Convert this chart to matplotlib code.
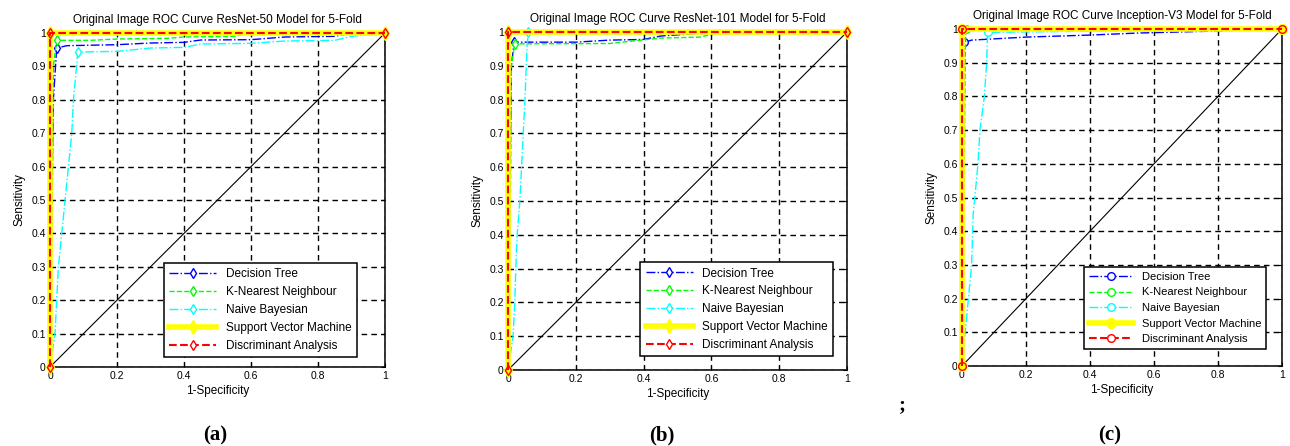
import matplotlib
matplotlib.use('Agg')
import matplotlib.pyplot as plt
from matplotlib.lines import Line2D

plt.rcParams['font.family'] = ['Liberation Sans', 'DejaVu Sans']

titles = ['Original Image ROC Curve ResNet-50 Model for 5-Fold',
          'Original Image ROC Curve ResNet-101 Model for 5-Fold',
          'Original Image ROC Curve Inception-V3 Model for 5-Fold']
panel_tags = ['(a)', '(b)', '(c)']
labels = ['Decision Tree', 'K-Nearest Neighbour', 'Naive Bayesian',
          'Support Vector Machine', 'Discriminant Analysis']
x_ticks = [0, 0.2, 0.4, 0.6, 0.8, 1]
x_tick_labels = ['0', '0.2', '0.4', '0.6', '0.8', '1']
y_ticks = [0, 0.1, 0.2, 0.3, 0.4, 0.5, 0.6, 0.7, 0.8, 0.9, 1]
y_tick_labels = ['0', '0.1', '0.2', '0.3', '0.4', '0.5', '0.6', '0.7', '0.8', '0.9', '1']

# ---- panel (a): ResNet-50 ----
a_dt_fpr = [0, 0.005, 0.01, 0.02, 0.05, 0.2, 0.3, 0.4, 0.45, 0.6, 0.7, 0.85, 0.9, 1.0]
a_dt_tpr = [0, 0.5, 0.8, 0.955, 0.962, 0.965, 0.97, 0.972, 0.979, 0.98, 0.988, 0.99, 1.0, 1.0]
a_knn_fpr = [0, 0.008, 0.01, 0.02, 0.12, 0.2, 0.35, 0.4, 0.55, 0.6, 1.0]
a_knn_tpr = [0, 0.6, 0.9, 0.978, 0.978, 0.982, 0.984, 0.988, 0.99, 1.0, 1.0]
a_nb_fpr = [0, 0.015, 0.02, 0.025, 0.035, 0.045, 0.055, 0.065, 0.07, 0.083, 0.2, 0.3, 0.4, 0.45, 0.6, 0.7, 0.85, 0.9, 1.0]
a_nb_tpr = [0, 0.1, 0.2, 0.3, 0.4, 0.5, 0.6, 0.7, 0.8, 0.943, 0.945, 0.955, 0.957, 0.967, 0.969, 0.976, 0.978, 0.99, 1.0]
a_svm_fpr = [0, 0, 1]
a_svm_tpr = [0, 1, 1]
a_da_fpr = [0, 0, 1]
a_da_tpr = [0, 1, 1]
a_marker_idx = [3, 3, 9]

# ---- panel (b): ResNet-101 ----
b_dt_fpr = [0, 0.005, 0.01, 0.018, 0.2, 0.3, 0.4, 0.45, 0.55, 0.75, 1.0]
b_dt_tpr = [0, 0.5, 0.9, 0.97, 0.97, 0.976, 0.978, 0.988, 0.995, 1.0, 1.0]
b_knn_fpr = [0, 0.008, 0.01, 0.02, 0.3, 0.45, 0.57, 0.6, 0.72, 1.0]
b_knn_tpr = [0, 0.6, 0.9, 0.965, 0.966, 0.982, 0.985, 0.994, 1.0, 1.0]
b_nb_fpr = [0, 0.015, 0.02, 0.023, 0.027, 0.035, 0.04, 0.045, 0.05, 0.056, 0.06, 1.0]
b_nb_tpr = [0, 0.1, 0.2, 0.3, 0.4, 0.5, 0.6, 0.7, 0.8, 0.955, 1.0, 1.0]
b_svm_fpr = [0, 0, 1]
b_svm_tpr = [0, 1, 1]
b_da_fpr = [0, 0, 1]
b_da_tpr = [0, 1, 1]
b_marker_idx = [3, 3, 10]

# ---- panel (c): Inception-V3 ----
c_dt_fpr = [0, 0.004, 0.006, 0.03, 0.2, 0.4, 0.55, 0.8, 0.95, 1.0]
c_dt_tpr = [0, 0.6, 0.96, 0.967, 0.976, 0.982, 0.988, 0.994, 1.0, 1.0]
c_knn_fpr = [0, 0.006, 0.01, 0.012, 1.0]
c_knn_tpr = [0, 0.5, 0.9, 1.0, 1.0]
c_nb_fpr = [0, 0.01, 0.02, 0.03, 0.035, 0.04, 0.05, 0.056, 0.07, 0.077, 0.08, 1.0]
c_nb_tpr = [0, 0.1, 0.2, 0.3, 0.45, 0.5, 0.6, 0.7, 0.8, 0.9, 0.99, 1.0]
c_svm_fpr = [0, 0, 1]
c_svm_tpr = [0, 1, 1]
c_da_fpr = [0, 0, 1]
c_da_tpr = [0, 1, 1]
c_marker_idx = [2, 3, 10]

panels = [
    [(a_dt_fpr, a_dt_tpr), (a_knn_fpr, a_knn_tpr), (a_nb_fpr, a_nb_tpr),
     (a_svm_fpr, a_svm_tpr), (a_da_fpr, a_da_tpr)],
    [(b_dt_fpr, b_dt_tpr), (b_knn_fpr, b_knn_tpr), (b_nb_fpr, b_nb_tpr),
     (b_svm_fpr, b_svm_tpr), (b_da_fpr, b_da_tpr)],
    [(c_dt_fpr, c_dt_tpr), (c_knn_fpr, c_knn_tpr), (c_nb_fpr, c_nb_tpr),
     (c_svm_fpr, c_svm_tpr), (c_da_fpr, c_da_tpr)],
]
marker_idx = [a_marker_idx, b_marker_idx, c_marker_idx]
panel_markers = ['d', 'd', 'o']

colors = ['#0000ff', '#00ff00', '#00ffff', '#ffff00', '#ff0000']
styles = ['-.', '--', '-.', '-', '--']
widths = [1.0, 1.0, 1.0, 4.0, 1.5]

# layout in pixels (left, top, right, bottom)
ax_px = [(50, 33, 385, 367), (508, 32, 847, 370), (962, 29, 1282, 366)]
legend_anchor = [(0.34, 0.03), (0.39, 0.04), (0.38, 0.05)]
legend_fs = [8.5, 8.5, 8.0]
tag_px = [(215, 435), (662, 435), (1110, 435)]

W, H = 1290, 446
fig = plt.figure(figsize=(W / 100, H / 100), dpi=100)
fs = 8.5
tfs = 7.5

for p in range(3):
    l, t, r, b = ax_px[p]
    ax = fig.add_axes([l / W, 1 - b / H, (r - l) / W, (b - t) / H])
    ax.plot([0, 1], [0, 1], color='black', lw=0.8, zorder=3)
    mk = panel_markers[p]
    handles = []
    for k in range(5):
        fpr, tpr = panels[p][k]
        ax.plot(fpr, tpr, color=colors[k], ls=styles[k], lw=widths[k],
                zorder=4 + k, clip_on=False)
        if k < 3:
            i = marker_idx[p][k]
            ax.plot([fpr[i]], [tpr[i]], ls='none', marker=mk, ms=5.5,
                    mfc='white', mec=colors[k], mew=1.0, zorder=4 + k, clip_on=False)
        elif k == 3:
            ax.plot(fpr, tpr, ls='none', marker=mk, ms=7, mfc=colors[k],
                    mec=colors[k], zorder=4 + k, clip_on=False)
        else:
            ax.plot(fpr, tpr, ls='none', marker=mk, ms=5.5, mfc='none',
                    mec=colors[k], mew=1.0, zorder=4 + k, clip_on=False)
        if k == 3:
            h = Line2D([], [], color=colors[k], ls=styles[k], lw=widths[k],
                       marker=mk, ms=7, mfc=colors[k], mec=colors[k])
        else:
            h = Line2D([], [], color=colors[k], ls=styles[k], lw=widths[k],
                       marker=mk, ms=5.5, mfc='white', mec=colors[k])
        handles.append(h)
    ax.set_xlim(0, 1)
    ax.set_ylim(0, 1)
    ax.set_xticks(x_ticks)
    ax.set_xticklabels(x_tick_labels)
    ax.set_yticks(y_ticks)
    ax.set_yticklabels(y_tick_labels)
    ax.tick_params(direction='in', length=3, width=0.8, top=True, right=True,
                   labelsize=tfs, pad=3)
    ax.grid(True, color='black', ls=(0, (4, 3)), lw=1.0)
    ax.set_axisbelow(True)
    for s in ax.spines.values():
        s.set_linewidth(1.1)
        s.set_zorder(2.5)
    ax.set_title(titles[p], fontsize=fs, pad=7)
    ax.set_xlabel('1-Specificity', fontsize=fs, labelpad=3)
    ax.set_ylabel('Sensitivity', fontsize=fs, labelpad=4)
    leg = ax.legend(handles, labels, loc='lower left', bbox_to_anchor=legend_anchor[p],
                    borderaxespad=0, fontsize=legend_fs[p], frameon=True, fancybox=False,
                    framealpha=1, edgecolor='black', handlelength=4, handletextpad=0.8,
                    labelspacing=0.5, borderpad=0.45, numpoints=1)
    leg.get_frame().set_linewidth(1.1)
    leg.set_zorder(30)
    tx, ty = tag_px[p]
    fig.text(tx / W, 1 - ty / H, panel_tags[p], ha='center', va='center',
             fontsize=15, fontweight='bold', family='Liberation Serif')

fig.text(902 / W, 1 - 405 / H, ';', ha='center', va='center', fontsize=15,
         fontweight='bold', family='Liberation Serif')

fig.savefig('out.png', dpi=100)
